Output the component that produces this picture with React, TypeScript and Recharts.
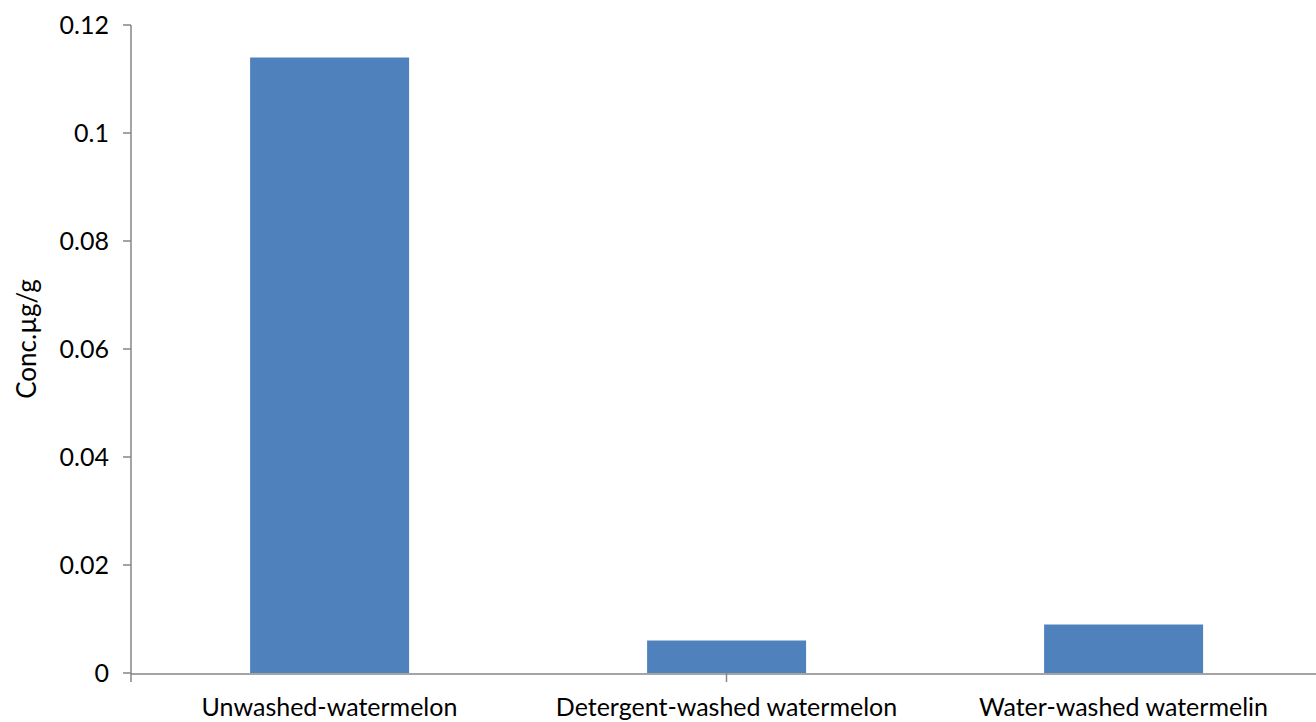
import React from 'react';
import { BarChart, Bar, XAxis, YAxis, Label } from 'recharts';

const categories = ['Unwashed-watermelon', 'Detergent-washed watermelon', 'Water-washed watermelin'];
const concValues = [0.114, 0.006, 0.009];
const yTicks = [0, 0.02, 0.04, 0.06, 0.08, 0.1, 0.12];
const boundaryTicks = [0, 1, 2, 3];
const yAxisTitle = 'Conc.µg/g';

const data = categories.map((name, i) => ({ name, conc: concValues[i] }));

const FONT = 'Lato, "Open Sans", sans-serif';
const AXIS = '#868686';

const YTitle = (props: any) => {
  const vb = props.viewBox || {};
  const cx = (vb.x || 0) + 26;
  const cy = (vb.y || 0) + (vb.height || 0) / 2 - 10;
  return (
    <text
      x={cx}
      y={cy}
      transform={`rotate(-90 ${cx} ${cy})`}
      textAnchor="middle"
      dominantBaseline="central"
      fill="#000"
      fontSize={26}
      fontFamily={FONT}
    >
      {yAxisTitle}
    </text>
  );
};

export default function App() {
  return (
    <div style={{ position: 'absolute', left: 0, top: 0, width: 1316, height: 722, background: '#fff', overflow: 'hidden' }}>
      <BarChart
        width={1316}
        height={722}
        data={data}
        margin={{ top: 25, right: -6, bottom: 0, left: 0 }}
        barCategoryGap="30%"
      >
        <XAxis
          xAxisId="cat"
          dataKey="name"
          height={48}
          axisLine={{ stroke: AXIS, strokeWidth: 1.5 }}
          tickLine={false}
          tickSize={0}
          tickMargin={24}
          interval={0}
          tick={{ fill: '#000', fontSize: 25, fontFamily: FONT }}
        />
        <XAxis
          xAxisId="bound"
          type="number"
          domain={[0, 3]}
          ticks={boundaryTicks}
          tick={() => <g />}
          tickSize={9}
          height={1}
          axisLine={false}
          tickLine={{ stroke: AXIS, strokeWidth: 1.5 }}
          allowDataOverflow
        />
        <YAxis
          width={131}
          domain={[0, 0.12]}
          ticks={yTicks}
          tickFormatter={(v: number) => String(v)}
          tickSize={8}
          tickMargin={14}
          axisLine={{ stroke: AXIS, strokeWidth: 1.5 }}
          tickLine={{ stroke: AXIS, strokeWidth: 1.5 }}
          tick={{ fill: '#000', fontSize: 25, fontFamily: FONT }}
        >
          <Label content={YTitle} />
        </YAxis>
        <Bar xAxisId="cat" dataKey="conc" fill="#4F81BD" isAnimationActive={false} />
      </BarChart>
    </div>
  );
}
